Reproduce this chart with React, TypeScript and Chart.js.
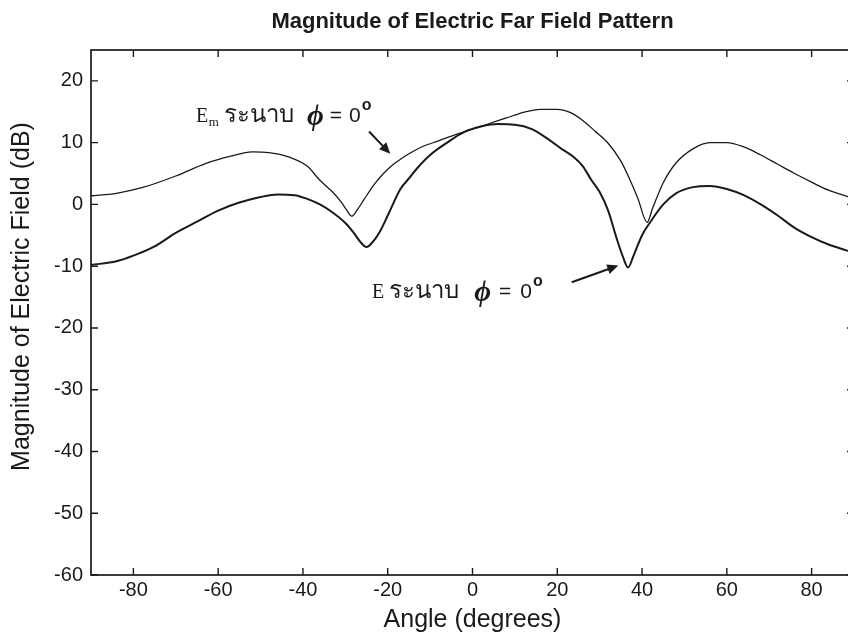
import React, { useEffect, useRef } from "react";
import { Chart, registerables } from "chart.js";

Chart.register(...registerables);

const xTicks = [-80, -60, -40, -20, 0, 20, 40, 60, 80];
const yTicks = [-60, -50, -40, -30, -20, -10, 0, 10, 20];

const emAngles = [
  -90, -84, -78, -70, -63, -57, -52, -48, -43, -39, -36, -33, -31, -29.8, -28.5, -27.2, -25.5,
  -23, -21, -19, -17, -15, -12, -8, -4, 0, 4, 8, 12, 16, 20, 23, 26, 29, 32, 35, 37, 39, 41.2,
  42.5, 45, 48, 52, 56, 60, 64, 68, 72, 76, 80, 84, 88, 90,
];
const emValues = [
  1.4, 1.8, 2.7, 4.6, 6.6, 7.8, 8.5, 8.4, 7.6, 6.2, 3.9, 2.0, 0.4, -0.8, -1.9, -0.9, 0.9,
  3.4, 5.0, 6.3, 7.3, 8.2, 9.3, 10.3, 11.3, 12.2, 13.1, 14.0, 14.9, 15.4, 15.4, 14.9, 13.6, 11.8,
  9.9, 7.0, 4.2, 1.0, -2.9, -0.6, 3.5, 6.7, 9.0, 10.0, 10.0, 9.3, 8.0, 6.5, 5.0, 3.6, 2.3, 1.4, 1.0,
];

const eAngles = [
  -90, -84, -80, -75, -70, -65, -60, -55, -50, -46, -42, -39, -36, -33, -30, -28, -26.3, -25,
  -23.7, -22, -20, -17, -15, -13, -10, -6, -2, 2, 6, 10, 14, 18, 21, 24, 26, 28, 30, 32, 34,
  35.5, 36.7, 38, 40, 42, 45, 48, 52, 56, 60, 64, 68, 72, 76, 80, 84, 88, 90,
];
const eValues = [
  -9.8, -9.2, -8.3, -6.8, -4.6, -2.8, -1.0, 0.3, 1.2, 1.6, 1.5, 0.9, 0.0, -1.3, -3.0, -4.6, -6.2, -6.9,
  -6.2, -4.6, -1.8, 2.5, 4.2, 5.9, 8.0, 10.0, 11.7, 12.6, 13.0, 12.9, 12.2, 10.5, 9.0, 7.6, 6.2, 4.0,
  2.0, -1.0, -5.5, -8.5, -10.2, -8.3, -5.0, -2.8, 0.0, 1.8, 2.8, 3.0, 2.5, 1.5, 0.0, -1.8, -3.8, -5.3,
  -6.5, -7.4, -7.8,
];

// annotation anchors in data units
const emLabel = { x: -65.2, y: 13.3, sub: "m", gap: 2 };
const emArrow = { x1: -24.4, y1: 11.8, x2: -19.4, y2: 8.2 };
const eLabel = { x: -23.7, y: -15.2, sub: "", gap: 4 };
const eArrow = { x1: 23.4, y1: -12.6, x2: 34.4, y2: -9.9 };

const yTitle = "Magnitude of Electric Field (dB)";

const SANS = '"Liberation Sans", Arial, Helvetica, sans-serif';
const SERIF = '"Liberation Serif", "DejaVu Serif", "Times New Roman", serif';
const INK = "#1a1a1a";

function drawLabel(ctx: CanvasRenderingContext2D, x0: number, y0: number, sub: string, gap: number) {
  let cx = x0;
  ctx.fillStyle = INK;
  ctx.textBaseline = "alphabetic";
  ctx.textAlign = "left";
  ctx.font = `20px ${SERIF}`;
  ctx.fillText("E", cx, y0);
  cx += ctx.measureText("E").width;
  if (sub) {
    ctx.font = `13px ${SERIF}`;
    ctx.fillText(sub, cx + 0.5, y0 + 4);
    cx += ctx.measureText(sub).width + 0.5;
  }
  cx += 5;
  ctx.font = `24px ${SERIF}`;
  ctx.fillText("ระนาบ", cx, y0);
  cx += ctx.measureText("ระนาบ").width + 11 + gap;
  ctx.font = `italic bold 29px ${SERIF}`;
  ctx.fillText("ϕ", cx, y0 + 3);
  cx += ctx.measureText("ϕ").width + 4 + gap;
  ctx.font = `21px ${SANS}`;
  ctx.fillText("=", cx, y0);
  cx += ctx.measureText("=").width + 5 + gap;
  ctx.fillText("0", cx, y0);
  cx += ctx.measureText("0").width + 1;
  ctx.font = `bold 16px ${SANS}`;
  ctx.fillText("o", cx, y0 - 12);
}

function drawArrow(ctx: CanvasRenderingContext2D, x1: number, y1: number, x2: number, y2: number) {
  const ang = Math.atan2(y2 - y1, x2 - x1);
  const hl = 11;
  const hw = 5;
  ctx.strokeStyle = INK;
  ctx.fillStyle = INK;
  ctx.lineWidth = 2;
  ctx.beginPath();
  ctx.moveTo(x1, y1);
  ctx.lineTo(x2 - Math.cos(ang) * hl * 0.8, y2 - Math.sin(ang) * hl * 0.8);
  ctx.stroke();
  ctx.beginPath();
  ctx.moveTo(x2, y2);
  ctx.lineTo(x2 - Math.cos(ang) * hl - Math.sin(ang) * hw, y2 - Math.sin(ang) * hl + Math.cos(ang) * hw);
  ctx.lineTo(x2 - Math.cos(ang) * hl + Math.sin(ang) * hw, y2 - Math.sin(ang) * hl - Math.cos(ang) * hw);
  ctx.closePath();
  ctx.fill();
}

const framePlugin = {
  id: "frameTicks",
  afterDraw(chart: any) {
    const { ctx, chartArea: a, scales } = chart;
    const x = scales.x;
    const y = scales.y;
    ctx.save();
    ctx.strokeStyle = INK;
    ctx.lineWidth = 1.7;
    ctx.strokeRect(a.left, a.top, a.right - a.left, a.bottom - a.top);
    ctx.lineWidth = 1.4;
    const L = 7;
    ctx.beginPath();
    xTicks.forEach((v) => {
      const px = x.getPixelForValue(v);
      ctx.moveTo(px, a.bottom);
      ctx.lineTo(px, a.bottom - L);
      ctx.moveTo(px, a.top);
      ctx.lineTo(px, a.top + L);
    });
    yTicks.forEach((v) => {
      const py = y.getPixelForValue(v);
      ctx.moveTo(a.left, py);
      ctx.lineTo(a.left + L, py);
      ctx.moveTo(a.right, py);
      ctx.lineTo(a.right - L, py);
    });
    ctx.stroke();

    // y axis title
    ctx.save();
    ctx.translate(22, (a.top + a.bottom) / 2 - 16);
    ctx.rotate(-Math.PI / 2);
    ctx.font = `25px ${SANS}`;
    ctx.fillStyle = INK;
    ctx.textAlign = "center";
    ctx.textBaseline = "middle";
    ctx.fillText(yTitle, 0, 0);
    ctx.restore();

    drawLabel(ctx, x.getPixelForValue(emLabel.x), y.getPixelForValue(emLabel.y), emLabel.sub, emLabel.gap);
    drawLabel(ctx, x.getPixelForValue(eLabel.x), y.getPixelForValue(eLabel.y), eLabel.sub, eLabel.gap);
    drawArrow(
      ctx,
      x.getPixelForValue(emArrow.x1),
      y.getPixelForValue(emArrow.y1),
      x.getPixelForValue(emArrow.x2),
      y.getPixelForValue(emArrow.y2)
    );
    drawArrow(
      ctx,
      x.getPixelForValue(eArrow.x1),
      y.getPixelForValue(eArrow.y1),
      x.getPixelForValue(eArrow.x2),
      y.getPixelForValue(eArrow.y2)
    );
    ctx.restore();
  },
};

export default function App() {
  const ref = useRef<HTMLCanvasElement | null>(null);

  useEffect(() => {
    const canvas = ref.current;
    if (!canvas) return;
    const toPts = (xs: number[], ys: number[]) => xs.map((v, i) => ({ x: v, y: ys[i] }));
    const chart = new Chart(canvas, {
      type: "line",
      data: {
        datasets: [
          {
            label: "Em plane phi = 0",
            data: toPts(emAngles, emValues),
            borderColor: INK,
            borderWidth: 1.3,
            pointRadius: 0,
            fill: false,
            cubicInterpolationMode: "monotone",
          },
          {
            label: "E plane phi = 0",
            data: toPts(eAngles, eValues),
            borderColor: INK,
            borderWidth: 2,
            pointRadius: 0,
            fill: false,
            cubicInterpolationMode: "monotone",
          },
        ],
      },
      options: {
        responsive: false,
        animation: false,
        devicePixelRatio: 1,
        layout: { padding: { left: 0, right: 8, top: 0, bottom: 0 } },
        plugins: {
          legend: { display: false },
          tooltip: { enabled: false },
          title: {
            display: true,
            text: "Magnitude of Electric Far Field Pattern",
            fullSize: false,
            color: INK,
            font: { family: SANS, size: 22, weight: "bold" },
            padding: { top: 9, bottom: 14.6 },
          },
        },
        scales: {
          x: {
            type: "linear",
            min: -90,
            max: 90,
            afterBuildTicks: (s: any) => {
              s.ticks = xTicks.map((v) => ({ value: v }));
            },
            afterFit: (s: any) => {
              s.height = 64;
            },
            grid: { display: false, drawTicks: false },
            border: { display: false },
            ticks: {
              padding: 3,
              color: INK,
              maxRotation: 0,
              autoSkip: false,
              font: { family: SANS, size: 20 },
            },
            title: {
              display: true,
              text: "Angle (degrees)",
              color: INK,
              font: { family: SANS, size: 25 },
              padding: { top: 4, bottom: 4 },
            },
          },
          y: {
            type: "linear",
            min: -60,
            max: 25,
            afterBuildTicks: (s: any) => {
              s.ticks = yTicks.map((v) => ({ value: v }));
            },
            afterFit: (s: any) => {
              s.width = 91;
            },
            grid: { display: false, drawTicks: false },
            border: { display: false },
            ticks: {
              padding: 8,
              color: INK,
              autoSkip: false,
              font: { family: SANS, size: 20 },
            },
            title: { display: false },
          },
        },
      },
      plugins: [framePlugin],
    } as any);
    return () => chart.destroy();
  }, []);

  return (
    <div
      style={{
        position: "fixed",
        left: 0,
        top: 0,
        width: 848,
        height: 639,
        overflow: "hidden",
        background: "#ffffff",
      }}
    >
      <canvas ref={ref} width={862} height={639} style={{ display: "block" }} />
    </div>
  );
}
